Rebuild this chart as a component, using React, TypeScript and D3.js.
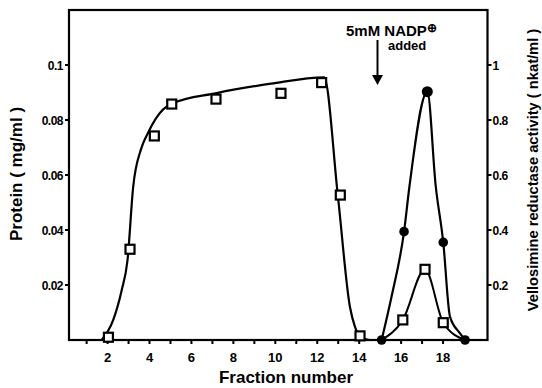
import React from "react";
import * as d3 from "d3";

// Protein (squares) measured points
const proteinX = [2.04, 3.07, 4.23, 5.06, 7.17, 10.27, 12.21, 13.1, 14.04, 16.08, 17.14, 18.01];
const proteinY = [0.001, 0.033, 0.0742, 0.0858, 0.0876, 0.0897, 0.0936, 0.0527, 0.0015, 0.0073, 0.0257, 0.0063];

// Activity (filled circles)
const activityX = [15.07, 16.14, 17.25, 18.01, 19.05];
const activityY = [0, 0.394, 0.903, 0.355, 0];

// Fitted curve through protein peak 1
const curve1X = [1.72, 2.27, 2.67, 2.95, 3.22, 3.6, 3.92, 4.3, 5.01, 7.2, 9.8, 12.33, 12.98, 13.56, 13.8, 14.04, 14.5, 15.0];
const curve1Y = [0, 0.0073, 0.018, 0.029, 0.0556, 0.0695, 0.0752, 0.0805, 0.0858, 0.0898, 0.0932, 0.0955, 0.0527, 0.012, 0.0048, 0.0015, 0, 0];

// Protein small peak curve
const curve2X = [15.07, 16.08, 17.14, 18.01, 19.05];
const curve2Y = [0, 0.0073, 0.0257, 0.0063, 0];

// Activity curve
const curve3X = [15.07, 15.55, 16.14, 16.4, 17.25, 17.65, 18.01, 18.33, 18.8, 19.05];
const curve3Y = [0, 0.16, 0.394, 0.56, 0.903, 0.56, 0.355, 0.085, 0.025, 0];

const xTicksMajor = [2, 4, 6, 8, 10, 12, 14, 16, 18];
const xTicksMinor = [1, 3, 5, 7, 9, 11, 13, 15, 17, 19];
const leftTicks = [0.02, 0.04, 0.06, 0.08, 0.1];
const leftTickLabels = ["0.02", "0.04", "0.06", "0.08", "0.1"];
const rightTicks = [0.2, 0.4, 0.6, 0.8, 1];
const rightTickLabels = ["0.2", "0.4", "0.6", "0.8", "1"];

const FONT = "'Liberation Sans', Arial, sans-serif";

export default function App() {
  const W = 542, H = 388;
  const x = d3.scaleLinear().domain([0.16, 20.12]).range([69, 487.5]);
  const yL = d3.scaleLinear().domain([0, 0.12]).range([340, 10]);
  const yR = d3.scaleLinear().domain([0, 1.2]).range([340, 10]);

  const lineL = d3.line<[number, number]>().x(d => x(d[0])).y(d => yL(d[1])).curve(d3.curveMonotoneX);
  const lineR = d3.line<[number, number]>().x(d => x(d[0])).y(d => yR(d[1])).curve(d3.curveMonotoneX);

  const c1 = curve1X.map((v, i) => [v, curve1Y[i]] as [number, number]);
  const c2 = curve2X.map((v, i) => [v, curve2Y[i]] as [number, number]);
  const c3 = curve3X.map((v, i) => [v, curve3Y[i]] as [number, number]);

  const [x0, x1] = x.range();
  const [yb, yt] = yL.range();

  return (
    <svg width={W} height={H} style={{ position: "absolute", left: 0, top: 0, background: "#fff" }}>
      <rect x={0} y={0} width={W} height={H} fill="#fff" />
      {/* frame */}
      <rect x={x0} y={yt} width={x1 - x0} height={yb - yt} fill="none" stroke="#000" strokeWidth={2.2} />
      {/* bottom ticks */}
      {[...xTicksMajor, ...xTicksMinor].map(t => (
        <line key={"xt" + t} x1={x(t)} x2={x(t)} y1={yb} y2={yb + 4} stroke="#000" strokeWidth={2} />
      ))}
      {xTicksMajor.map(t => (
        <text key={"xl" + t} x={x(t)} y={362} textAnchor="middle" fontFamily={FONT} fontWeight="bold" fontSize={13}>{t}</text>
      ))}
      {/* left ticks */}
      {leftTicks.map((t, i) => (
        <g key={"lt" + t}>
          <line x1={x0 - 4} x2={x0} y1={yL(t)} y2={yL(t)} stroke="#000" strokeWidth={2} />
          <text x={x0 - 6} y={yL(t) + 4.5} textAnchor="end" fontFamily={FONT} fontWeight="bold" fontSize={12} letterSpacing={-0.5}>{leftTickLabels[i]}</text>
        </g>
      ))}
      {/* right ticks */}
      {rightTicks.map((t, i) => (
        <g key={"rt" + t}>
          <line x1={x1} x2={x1 + 4} y1={yR(t)} y2={yR(t)} stroke="#000" strokeWidth={2} />
          <text x={x1 + 5} y={yR(t) + 4.5} textAnchor="start" fontFamily={FONT} fontWeight="bold" fontSize={12} letterSpacing={-0.5}>{rightTickLabels[i]}</text>
        </g>
      ))}
      {/* axis titles */}
      <text x={286} y={383} textAnchor="middle" fontFamily={FONT} fontWeight="bold" fontSize={17}>Fraction number</text>
      <text transform={`translate(22,174) rotate(-90)`} textAnchor="middle" fontFamily={FONT} fontWeight="bold" fontSize={17}>Protein ( mg/ml )</text>
      <text transform={`translate(538,170) rotate(-90)`} textAnchor="middle" fontFamily={FONT} fontWeight="bold" fontSize={14.7}>Vellosimine reductase activity ( nkat/ml )</text>

      {/* curves */}
      <path d={lineL(c1) || ""} fill="none" stroke="#000" strokeWidth={2.2} />
      <path d={lineL(c2) || ""} fill="none" stroke="#000" strokeWidth={2} />
      <path d={lineR(c3) || ""} fill="none" stroke="#000" strokeWidth={2.2} />

      {/* markers */}
      {proteinX.map((v, i) => (
        <rect key={"sq" + i} x={x(v) - 4.5} y={yL(proteinY[i]) - 4.5} width={9} height={9} fill="#fff" stroke="#000" strokeWidth={2.2} />
      ))}
      {activityX.map((v, i) => (
        <circle key={"ci" + i} cx={x(v)} cy={yR(activityY[i])} r={activityY[i] > 0.8 ? 5.5 : 4.8} fill="#000" />
      ))}

      {/* annotation */}
      <text x={346} y={36} fontFamily={FONT} fontWeight="bold" fontSize={15}>5mM NADP<tspan fontSize={12} dy={-4}>⊕</tspan></text>
      <text x={388} y={50} fontFamily={FONT} fontWeight="bold" fontSize={13}>added</text>
      <line x1={377.5} x2={377.5} y1={40} y2={77} stroke="#000" strokeWidth={2} />
      <path d="M372,75 L383,75 L377.5,85 Z" fill="#000" />
    </svg>
  );
}
